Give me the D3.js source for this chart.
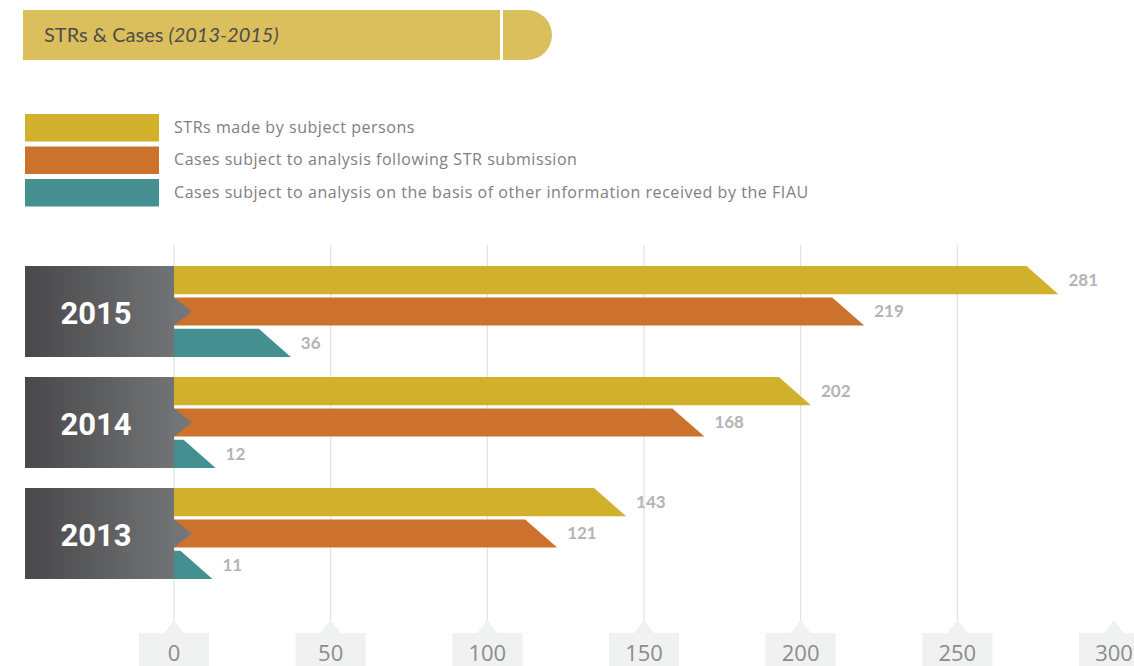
<!DOCTYPE html>
<html>
<head>
<meta charset="UTF-8">
<title>STRs & Cases</title>
<style>
  body { margin: 0; background: #fff; }
  svg { display: block; }
</style>
</head>
<body>
<script src="https://d3js.org/d3.v7.min.js"></script>
<script>
// data
var years = ["2015", "2014", "2013"]
var strsMade = [281, 202, 143]
var casesFromStr = [219, 168, 121]
var casesOther = [36, 12, 11]
var tickValues = [0, 50, 100, 150, 200, 250, 300]
var seriesNames = [
  "STRs made by subject persons",
  "Cases subject to analysis following STR submission",
  "Cases subject to analysis on the basis of other information received by the FIAU"
]
var seriesColors = ["#d1b02b", "#cc722d", "#448f8f"]

var width = 1134, height = 666
var font = "Lato, 'Open Sans', sans-serif"

var svg = d3.select("body").append("svg")
  .attr("width", width)
  .attr("height", height)

// scales
var x = d3.scaleLinear().domain([0, 300]).range([174, 1114])
var y = d3.scaleBand().domain(years).range([266, 579]).paddingInner(20 / 111)
var ySub = d3.scaleBand().domain(d3.range(3)).range([0, y.bandwidth()]).paddingInner(0.1)

// title banner
svg.append("rect").attr("x", 23).attr("y", 10).attr("width", 477).attr("height", 50).attr("fill", "#dbbf5c")
svg.append("path")
  .attr("d", "M503,10 H527 A25,25 0 0 1 527,60 H503 Z")
  .attr("fill", "#dbbf5c")
var title = svg.append("text").attr("x", 44).attr("y", 42)
  .attr("font-family", font).attr("font-size", 20).attr("fill", "#4d4d4d")
title.append("tspan").text("STRs & Cases ")
title.append("tspan").attr("font-style", "italic").text("(2013-2015)")

// legend
var legend = svg.append("g")
legend.selectAll("rect").data(seriesNames).enter().append("rect")
  .attr("x", 25).attr("y", function(d, i) { return 114 + i * 32.5 })
  .attr("width", 134).attr("height", 27.5)
  .attr("fill", function(d, i) { return seriesColors[i] })
legend.selectAll("text").data(seriesNames).enter().append("text")
  .attr("x", 174).attr("y", function(d, i) { return 127 + i * 32.5 })
  .attr("dy", "0.35em")
  .attr("font-family", "'Open Sans', sans-serif").attr("font-size", 16).attr("fill", "#808080")
  .attr("letter-spacing", 0.55)
  .text(function(d) { return d })

// grid lines + tick boxes
var tickG = svg.append("g")
tickG.selectAll("line").data(tickValues.filter(function(d) { return d < 300 })).enter().append("line")
  .attr("x1", function(d) { return x(d) }).attr("x2", function(d) { return x(d) })
  .attr("y1", 245).attr("y2", 622)
  .attr("stroke", "#dcdcdc").attr("stroke-width", 1)
tickG.selectAll("path").data(tickValues).enter().append("path")
  .attr("d", function(d) {
    var cx = x(d)
    return "M" + (cx - 35) + ",633 H" + (cx - 10) + " L" + cx + ",620 L" + (cx + 10) + ",633 H" + (cx + 35) + " V666 H" + (cx - 35) + " Z"
  })
  .attr("fill", "#f0f1f1")
tickG.selectAll("text").data(tickValues).enter().append("text")
  .attr("x", function(d) { return x(d) }).attr("y", 653)
  .attr("dy", "0.35em").attr("text-anchor", "middle")
  .attr("font-family", "'Open Sans', sans-serif").attr("font-size", 22).attr("fill", "#8c8c8c")
  .text(function(d) { return d })

// gradient for year boxes
var grad = svg.append("defs").append("linearGradient").attr("id", "yearGrad")
grad.append("stop").attr("offset", "0%").attr("stop-color", "#48484a")
grad.append("stop").attr("offset", "100%").attr("stop-color", "#77787b")

var rows = years.map(function(yr, i) {
  return { year: yr, values: [strsMade[i], casesFromStr[i], casesOther[i]] }
})

var groups = svg.selectAll(".year").data(rows).enter().append("g")
  .attr("class", "year")
  .attr("transform", function(d) { return "translate(0," + y(d.year) + ")" })

var slant = 32
groups.selectAll(".bar").data(function(d) { return d.values }).enter().append("path")
  .attr("class", "bar")
  .attr("fill", function(d, i) { return seriesColors[i] })
  .attr("d", function(d, i) {
    var y0 = ySub(i), h = ySub.bandwidth()
    var end = x(d) + 4
    return "M" + x(0) + "," + y0 + " H" + (end - slant) + " L" + end + "," + (y0 + h) + " H" + x(0) + " Z"
  })

groups.selectAll(".val").data(function(d) { return d.values }).enter().append("text")
  .attr("class", "val")
  .attr("x", function(d) { return x(d) + 14 })
  .attr("y", function(d, i) { return ySub(i) + ySub.bandwidth() / 2 })
  .attr("dy", "0.35em")
  .attr("font-family", font).attr("font-size", 17).attr("font-weight", "bold").attr("fill", "#b3b3b8")
  .text(function(d) { return d })

// year box with arrow
groups.append("path")
  .attr("d", function() {
    var h = y.bandwidth(), a0 = ySub(1), a1 = ySub(1) + ySub.bandwidth()
    return "M25,0 H" + x(0) + " V" + a0 + " L" + (x(0) + 18) + "," + ((a0 + a1) / 2) + " L" + x(0) + "," + a1 + " V" + h + " H25 Z"
  })
  .attr("fill", "url(#yearGrad)")
groups.append("text")
  .attr("x", 96).attr("y", y.bandwidth() / 2 + 2)
  .attr("dy", "0.35em").attr("text-anchor", "middle")
  .attr("font-family", "Roboto, sans-serif").attr("font-weight", "bold")
  .attr("font-size", 31).attr("fill", "#fff")
  .text(function(d) { return d.year })
</script>
</body>
</html>
